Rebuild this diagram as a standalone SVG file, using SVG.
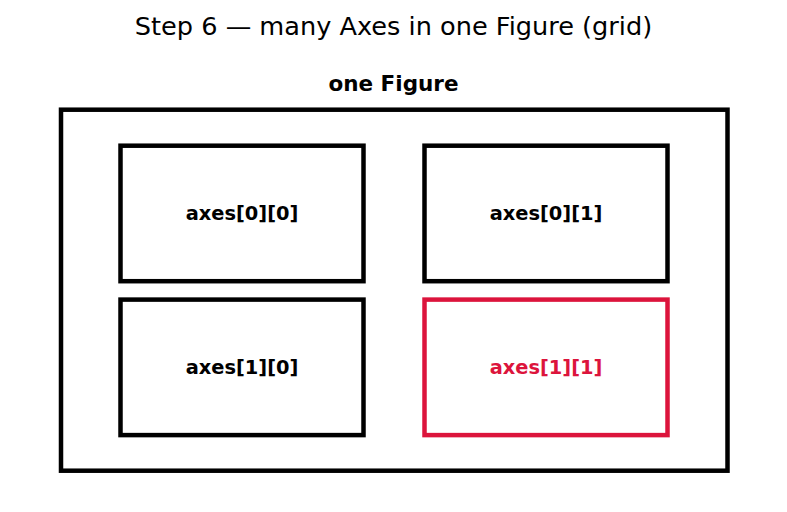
<svg xmlns="http://www.w3.org/2000/svg" width="787" height="512" viewBox="0 0 787 512">
<style>
text{font-family:"DejaVu Sans",sans-serif;text-anchor:middle}
.title{font-size:25.6px}
.sub{font-size:21.5px;font-weight:bold}
.lbl{font-size:19.4px;font-weight:bold}
.box{fill:none;stroke:#000;stroke-width:4.5}
.hl rect{stroke:#DC143C}
.hl text{fill:#DC143C}
</style>
<rect width="787" height="512" fill="#fff"/>
<text class="title" x="393.5" y="35">Step 6 — many Axes in one Figure (grid)</text>
<g id="figure">
<text class="sub" x="393.5" y="91">one Figure</text>
<rect class="box" x="61" y="109.7" width="666.5" height="361"/>
</g>
<g id="ax00"><rect class="box" x="120.5" y="145.7" width="243" height="135.5"/><text class="lbl" x="242" y="220">axes[0][0]</text></g>
<g id="ax01"><rect class="box" x="424.5" y="145.7" width="243" height="135.5"/><text class="lbl" x="546" y="220">axes[0][1]</text></g>
<g id="ax10"><rect class="box" x="120.5" y="299.6" width="243" height="135.5"/><text class="lbl" x="242" y="374">axes[1][0]</text></g>
<g id="ax11" class="hl"><rect class="box" x="424.5" y="299.6" width="243" height="135.5"/><text class="lbl" x="546" y="374">axes[1][1]</text></g>
<g id="connectors"/>
</svg>
